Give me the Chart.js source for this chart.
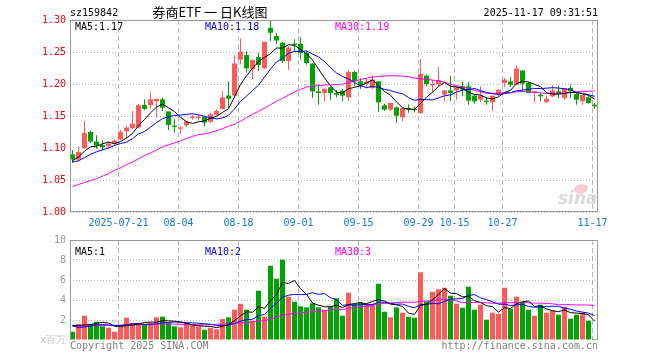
<!DOCTYPE html>
<html>
<head>
<meta charset="utf-8">
<script src="https://cdn.jsdelivr.net/npm/chart.js@4.4.1/dist/chart.umd.min.js"></script>
<style>
  html, body { margin: 0; padding: 0; background: #fff; }
  .box { position: absolute; left: 0; width: 660px; }
</style>
</head>
<body>
<div class="box" style="top:0;height:230px"><canvas id="kline" width="660" height="230"></canvas></div>
<div class="box" style="top:230px;height:130px"><canvas id="vol" width="660" height="130"></canvas></div>
<script>
'use strict';

// x positions of the date ticks (trading-day index) and their labels
const tickIdx = [8, 18, 28, 38, 48, 58, 64, 72, 87];
const tickLabels = ['2025-07-21', '08-04', '08-18', '09-01', '09-15', '09-29', '10-15', '10-27', '11-17'];
const priceTicks = [1.00, 1.05, 1.10, 1.15, 1.20, 1.25, 1.30];
const volTicks = [0, 2, 4, 6, 8, 10];

const open = [1.090, 1.082, 1.0995, 1.125, 1.110, 1.1047, 1.103, 1.107, 1.1135, 1.126,
  1.131, 1.132, 1.167, 1.167, 1.173, 1.176, 1.157, 1.135, 1.130, 1.1353,
  1.147, 1.147, 1.1484, 1.141, 1.152, 1.161, 1.182, 1.182, 1.238, 1.2453,
  1.223, 1.242, 1.2245, 1.288, 1.275, 1.2646, 1.236, 1.263, 1.2625, 1.2484,
  1.2318, 1.1885, 1.186, 1.1948, 1.186, 1.1896, 1.1792, 1.2188, 1.2042, 1.2005,
  1.1938, 1.2042, 1.1667, 1.160, 1.1635, 1.148, 1.1625, 1.161, 1.1547, 1.213,
  1.198, 1.200, 1.1833, 1.190, 1.190, 1.1964, 1.1964, 1.1818, 1.1755, 1.174,
  1.1714, 1.1844, 1.2016, 1.204, 1.199, 1.221, 1.2016, 1.1875, 1.1833, 1.1719,
  1.1807, 1.1885, 1.1781, 1.1938, 1.1844, 1.173, 1.1792, 1.1677];
const high = [1.097, 1.102, 1.142, 1.127, 1.120, 1.112, 1.110, 1.1135, 1.128, 1.134,
  1.158, 1.169, 1.176, 1.188, 1.177, 1.179, 1.157, 1.145, 1.134, 1.142,
  1.152, 1.152, 1.150, 1.155, 1.160, 1.189, 1.204, 1.245, 1.271, 1.2515,
  1.2385, 1.249, 1.266, 1.2995, 1.280, 1.266, 1.259, 1.270, 1.273, 1.251,
  1.233, 1.2005, 1.1927, 1.196, 1.1906, 1.192, 1.221, 1.221, 1.209, 1.209,
  1.2146, 1.2042, 1.169, 1.1703, 1.165, 1.1625, 1.168, 1.165, 1.2396, 1.2146,
  1.2068, 1.2266, 1.1907, 1.213, 1.1964, 1.2031, 1.203, 1.183, 1.1964, 1.1792,
  1.1818, 1.1922, 1.2099, 1.2109, 1.229, 1.221, 1.2031, 1.1885, 1.186, 1.1818,
  1.1979, 1.1964, 1.1938, 1.199, 1.186, 1.1833, 1.1818, 1.1703];
const low = [1.077, 1.079, 1.099, 1.108, 1.099, 1.096, 1.099, 1.105, 1.112, 1.116,
  1.129, 1.131, 1.159, 1.162, 1.148, 1.158, 1.128, 1.124, 1.122, 1.133,
  1.144, 1.143, 1.134, 1.139, 1.151, 1.160, 1.163, 1.179, 1.231, 1.218,
  1.207, 1.220, 1.224, 1.267, 1.262, 1.233, 1.2217, 1.250, 1.238, 1.230,
  1.178, 1.1677, 1.173, 1.1755, 1.179, 1.173, 1.173, 1.196, 1.192, 1.193,
  1.192, 1.1557, 1.1583, 1.1583, 1.139, 1.1417, 1.155, 1.156, 1.1536, 1.1964,
  1.186, 1.1964, 1.173, 1.173, 1.1755, 1.1807, 1.1677, 1.1693, 1.172, 1.1677,
  1.158, 1.1818, 1.1953, 1.1953, 1.199, 1.187, 1.186, 1.1714, 1.173, 1.1703,
  1.1797, 1.1781, 1.1755, 1.1781, 1.1677, 1.1677, 1.1693, 1.1615];
const close = [1.082, 1.094, 1.1234, 1.110, 1.104, 1.1016, 1.107, 1.1115, 1.1255, 1.132,
  1.138, 1.167, 1.161, 1.176, 1.177, 1.163, 1.136, 1.133, 1.132, 1.1416,
  1.149, 1.149, 1.1396, 1.1526, 1.158, 1.179, 1.177, 1.232, 1.2505, 1.2245,
  1.2375, 1.2297, 1.266, 1.280, 1.268, 1.236, 1.257, 1.261, 1.2484, 1.2328,
  1.1885, 1.186, 1.1927, 1.186, 1.1833, 1.1818, 1.2188, 1.2042, 1.199, 1.204,
  1.2068, 1.1714, 1.160, 1.1703, 1.1505, 1.1625, 1.160, 1.159, 1.2161, 1.200,
  1.2005, 1.2057, 1.190, 1.186, 1.1938, 1.1911, 1.174, 1.173, 1.1818, 1.172,
  1.1818, 1.191, 1.2068, 1.199, 1.224, 1.2005, 1.186, 1.188, 1.1807, 1.1771,
  1.190, 1.1849, 1.1938, 1.1885, 1.1755, 1.1833, 1.1703, 1.1651];
// volume, millions
const volume = [0.83, 1.6, 2.43, 1.6, 1.83, 1.37, 1.23, 0.83, 1.5, 2.23,
  1.7, 1.7, 1.6, 1.7, 2.27, 2.33, 1.7, 1.37, 1.27, 1.7,
  1.5, 1.37, 1.03, 1.23, 1.07, 2.1, 2.27, 3.03, 3.63, 3.03,
  1.93, 4.93, 2.33, 7.43, 6.13, 8.03, 4.33, 3.83, 3.37, 3.27,
  3.67, 3.27, 3.03, 3.33, 4.17, 2.43, 4.73, 3.6, 3.77, 3.6,
  3.6, 5.63, 2.83, 2.27, 3.27, 2.73, 2.33, 2.23, 6.77, 3.87,
  4.83, 5.07, 5.23, 4.43, 3.63, 3.23, 5.33, 3.03, 3.53, 2.03,
  2.73, 2.63, 5.23, 3.13, 4.33, 3.8, 3.03, 2.43, 3.53, 2.73,
  2.93, 2.53, 3.33, 2.13, 2.53, 2.73, 1.93, 0.1];

// averages on the first days need history that is off the chart
const ma5Head = [1.080, 1.086, 1.095, 1.102];
const ma10Head = [1.078, 1.080, 1.085, 1.090, 1.094, 1.097, 1.100, 1.104, 1.107];
const ma30Head = [1.040, 1.043, 1.046, 1.049, 1.052, 1.056, 1.060, 1.065, 1.069, 1.074,
  1.078, 1.083, 1.088, 1.092, 1.097, 1.102, 1.105, 1.108, 1.111, 1.115,
  1.118, 1.121, 1.122, 1.124, 1.127, 1.130, 1.134, 1.137, 1.142];
const vma5Head = [1.43, 1.45, 1.5, 1.55];
const vma10Head = [1.45, 1.25, 1.3, 1.4, 1.5, 1.55, 1.5, 1.45, 1.45];
const vma30Head = [1.37, 1.38, 1.40, 1.42, 1.43, 1.45, 1.46, 1.47, 1.48, 1.50,
  1.52, 1.53, 1.55, 1.56, 1.58, 1.60, 1.60, 1.59, 1.57, 1.55,
  1.53, 1.52, 1.52, 1.54, 1.57, 1.60, 1.63, 1.66, 1.70];

const maLabels = ['MA5:1.17', 'MA10:1.18', 'MA30:1.19'];
const volMaLabels = ['MA5:1', 'MA10:2', 'MA30:3'];

const RED = '#ff5a5a';
const GREEN = '#00a400';
const MA_COLORS = ['#000000', '#0000ff', '#ff00ff'];
const MONO = "'DejaVu Sans Mono', monospace";
const GRID = '#b4b4b4';
const FRAME = '#999999';

function movingAvg(src, n, head) {
  return src.map((v, i) => {
    if (i < n - 1) return head[i];
    let s = 0;
    for (let k = i - n + 1; k <= i; k++) s += src[k];
    return s / n;
  });
}

const idx = close.map((c, i) => i);
const barColor = idx.map(i => close[i] >= open[i] ? RED : GREEN);
const pts = arr => arr.map((v, i) => ({ x: i, y: v }));

const ma = [movingAvg(close, 5, ma5Head), movingAvg(close, 10, ma10Head), movingAvg(close, 30, ma30Head)];
const vma = [movingAvg(volume, 5, vma5Head), movingAvg(volume, 10, vma10Head), movingAvg(volume, 30, vma30Head)];

function maLines(series) {
  return series.map((s, k) => ({
    type: 'line',
    data: pts(s),
    borderColor: MA_COLORS[k],
    borderWidth: 1,
    pointRadius: 0,
    tension: 0,
    order: 0
  }));
}

function xAxis(showLabels, height) {
  return {
    type: 'linear',
    bounds: 'data',
    offset: false,
    min: -0.4167,
    max: 87.5833,
    afterBuildTicks: s => { s.ticks = tickIdx.map(v => ({ value: v - 1 / 3 })); },
    afterFit: s => { s.height = height; },
    grid: { color: GRID, drawTicks: false, offset: false },
    border: { display: false, dash: [5, 3] },
    ticks: {
      display: showLabels,
      autoSkip: false,
      maxRotation: 0,
      padding: 5,
      color: '#1478d4',
      font: { family: MONO, size: 10 },
      callback: (v, i) => tickLabels[i]
    }
  };
}

function text(ctx, str, x, y, color, font, align) {
  ctx.fillStyle = color;
  ctx.font = font;
  ctx.textAlign = align || 'left';
  ctx.textBaseline = 'middle';
  ctx.fillText(str, x, y);
}

const klineDecor = {
  id: 'klineDecor',
  beforeDatasetsDraw(chart) {
    const ctx = chart.ctx;
    ctx.save();
    ctx.fillStyle = '#f7cccc';
    ctx.beginPath();
    ctx.ellipse(581, 189, 7, 4.5, -0.2, 0, Math.PI * 2);
    ctx.fill();
    text(ctx, 'sina', 558, 200, '#dadada', "italic bold 17px 'DejaVu Sans'");
    ctx.restore();
  },
  afterDraw(chart) {
    const ctx = chart.ctx;
    const a = chart.chartArea;
    ctx.save();
    ctx.strokeStyle = FRAME;
    ctx.lineWidth = 1;
    ctx.strokeRect(a.left + 0.5, a.top + 0.5, a.right - a.left - 1, a.bottom - a.top - 1);
    text(ctx, 'sz159842', 70, 13, '#000', '10px ' + MONO);
    text(ctx, '券商ETF 一 日K线图', 210, 12, '#000', "13px 'Noto Sans CJK SC'", 'center');
    text(ctx, '2025-11-17 09:31:51', 598, 13, '#000', '10px ' + MONO, 'right');
    [75, 205, 335].forEach((x, k) => text(ctx, maLabels[k], x, 27, MA_COLORS[k], '10px ' + MONO));
    ctx.restore();
  }
};

const volDecor = {
  id: 'volDecor',
  afterDraw(chart) {
    const ctx = chart.ctx;
    const a = chart.chartArea;
    ctx.save();
    ctx.strokeStyle = FRAME;
    ctx.lineWidth = 1;
    ctx.beginPath();
    ctx.moveTo(a.left + 0.5, a.bottom);
    ctx.lineTo(a.left + 0.5, a.top + 0.5);
    ctx.lineTo(a.right - 0.5, a.top + 0.5);
    ctx.lineTo(a.right - 0.5, a.bottom);
    ctx.stroke();
    [75, 205, 335].forEach((x, k) => text(ctx, volMaLabels[k], x, 22, MA_COLORS[k], '10px ' + MONO));
    text(ctx, 'Copyright 2025 SINA.COM', 70, 116.5, '#808080', '10px ' + MONO);
    text(ctx, 'http://finance.sina.com.cn', 598, 116.5, '#808080', '10px ' + MONO, 'right');
    ctx.restore();
  }
};

const common = {
  responsive: false,
  animation: false,
  events: [],
  plugins: { legend: { display: false }, tooltip: { enabled: false } }
};

new Chart(document.getElementById('kline'), {
  type: 'bar',
  data: {
    datasets: [
      ...maLines(ma),
      {
        data: idx.map(i => ({ x: i, y: [open[i], close[i]] })),
        backgroundColor: barColor,
        barThickness: 5,
        minBarLength: 1,
        inflateAmount: 0,
        grouped: false,
        order: 1
      },
      {
        data: idx.map(i => ({ x: i, y: [low[i], high[i]] })),
        backgroundColor: barColor,
        barThickness: 1,
        inflateAmount: 0,
        grouped: false,
        order: 2
      }
    ]
  },
  options: {
    ...common,
    layout: { padding: { left: 0, right: 62, top: 20, bottom: 0 } },
    scales: {
      x: xAxis(true, 18),
      y: {
        type: 'linear',
        min: 1.0,
        max: 1.3,
        afterBuildTicks: s => { s.ticks = priceTicks.map(v => ({ value: v })); },
        afterFit: s => { s.width = 70; },
        grid: { color: GRID, drawTicks: false },
        border: { display: false, dash: [1, 2] },
        ticks: {
          padding: 4,
          color: '#ff0000',
          font: { family: MONO, size: 10 },
          callback: v => v.toFixed(2)
        }
      }
    }
  },
  plugins: [klineDecor]
});

new Chart(document.getElementById('vol'), {
  type: 'bar',
  data: {
    datasets: [
      ...maLines(vma),
      {
        data: pts(volume),
        backgroundColor: barColor,
        barThickness: 5,
        inflateAmount: 0,
        grouped: false,
        order: 1
      }
    ]
  },
  options: {
    ...common,
    layout: { padding: { left: 0, right: 62, top: 10, bottom: 0 } },
    scales: {
      x: xAxis(false, 20),
      y: {
        type: 'linear',
        min: 0,
        max: 10,
        afterBuildTicks: s => { s.ticks = volTicks.map(v => ({ value: v })); },
        afterFit: s => { s.width = 70; },
        grid: { color: c => c.tick && c.tick.value === 0 ? 'rgba(0,0,0,0)' : GRID, drawTicks: false },
        border: { display: false, dash: [1, 2] },
        ticks: {
          padding: 4,
          color: c => c.tick && c.tick.value === 0 ? '#c4c4c4' : '#999999',
          font: { family: MONO, size: 10 },
          callback: v => v === 0 ? 'x百万' : String(v)
        }
      }
    }
  },
  plugins: [volDecor]
});
</script>
</body>
</html>
